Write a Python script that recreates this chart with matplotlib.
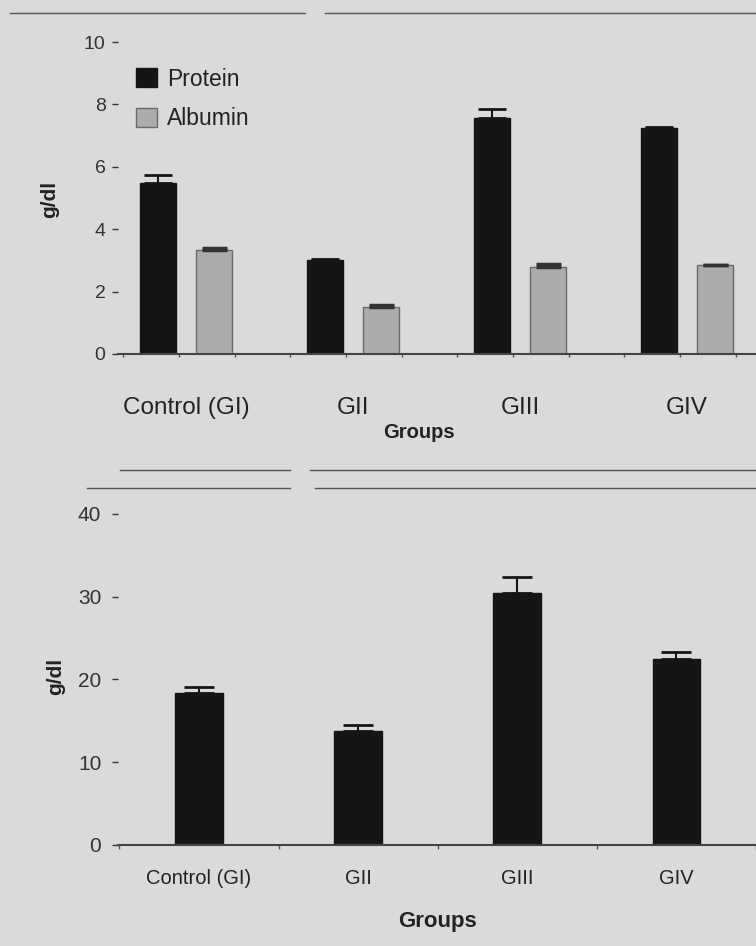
import numpy as np
import matplotlib.pyplot as plt
from matplotlib.lines import Line2D
from matplotlib.patches import Patch

plt.rcParams['font.family'] = ['Liberation Sans', 'DejaVu Sans']

groups = ['Control (GI)', 'GII', 'GIII', 'GIV']
protein = [5.47, 3.02, 7.56, 7.23]
protein_err = [0.28, 0.04, 0.29, 0.05]
albumin = [3.34, 1.51, 2.80, 2.86]
albumin_err = [0.07, 0.05, 0.08, 0.0]
globulin = [18.4, 13.8, 30.5, 22.5]
globulin_err = [0.7, 0.7, 1.9, 0.8]

bg = '#dadada'
dark = '#151515'
grey = '#acacac'

fig = plt.figure(figsize=(7.56, 9.46), dpi=100)
fig.patch.set_facecolor(bg)

x = np.arange(len(groups))

# ---- top chart: protein & albumin
ax1 = fig.add_axes([0.1561, 0.6258, 0.8439, 0.3298])
ax1.set_facecolor(bg)
ax1.bar(x - 0.168, protein, 0.22, color=dark, edgecolor=dark,
        yerr=[np.zeros(4), protein_err], capsize=10,
        error_kw=dict(ecolor=dark, elinewidth=1.5, capthick=2))
ax1.bar(x + 0.168, albumin, 0.22, color=grey, edgecolor='#6a6a6a', linewidth=1,
        yerr=[np.zeros(4), albumin_err], capsize=9,
        error_kw=dict(ecolor='#333333', elinewidth=1.5, capthick=2.5))
ax1.set_xlim(-0.407, 3.413)
ax1.set_ylim(0, 10)
ax1.set_yticks([0, 2, 4, 6, 8, 10])
ax1.set_xticks(x)
ax1.set_xticklabels(groups, fontsize=17.5, color='#222222')
ax1.set_xticks(np.arange(-0.375, 3.4, 1 / 3), minor=True)
ax1.tick_params(axis='x', which='major', length=0, pad=31)
ax1.tick_params(axis='x', which='minor', length=2, width=1, color='#555555')
ax1.tick_params(axis='y', length=4, width=1, pad=5, labelsize=14, colors='#333333')
ax1.set_xlabel('Groups', fontsize=14.5, fontweight='bold', color='#222222')
ax1.xaxis.set_label_coords(0.472, -0.22)
ax1.set_ylabel('g/dl', fontsize=15, fontweight='bold', color='#222222')
ax1.yaxis.set_label_coords(-0.092, 0.494)
handles = [Patch(facecolor=dark, edgecolor=dark), Patch(facecolor=grey, edgecolor='#6a6a6a')]
ax1.legend(handles, ['Protein', 'Albumin'], loc='upper left', bbox_to_anchor=(0.028, 0.918),
           frameon=False, fontsize=16.5, handlelength=0.9, handleheight=0.9,
           handletextpad=0.45, labelspacing=0.72, borderpad=0, borderaxespad=0,
           labelcolor='#222222')

# ---- bottom chart: globulin
ax2 = fig.add_axes([0.1561, 0.1068, 0.8439, 0.3499])
ax2.set_facecolor(bg)
ax2.bar(x, globulin, 0.30, color=dark, edgecolor=dark,
        yerr=[np.zeros(4), globulin_err], capsize=11,
        error_kw=dict(ecolor=dark, elinewidth=1.5, capthick=2))
ax2.set_xlim(-0.509, 3.453)
ax2.set_ylim(0, 40)
ax2.set_yticks([0, 10, 20, 30, 40])
ax2.set_xticks(x)
ax2.set_xticklabels(groups, fontsize=14.5, color='#222222')
ax2.set_xticks(np.arange(-0.5, 3.6, 1.0), minor=True)
ax2.tick_params(axis='x', which='major', length=0, pad=17)
ax2.tick_params(axis='x', which='minor', length=3, width=1, color='#555555')
ax2.tick_params(axis='y', length=4, width=1, pad=8, labelsize=15, colors='#333333')
ax2.set_xlabel('Groups', fontsize=16, fontweight='bold', color='#222222')
ax2.xaxis.set_label_coords(0.5, -0.20)
ax2.set_ylabel('g/dl', fontsize=15, fontweight='bold', color='#222222')
ax2.yaxis.set_label_coords(-0.083, 0.508)

for ax in (ax1, ax2):
    for s in ('top', 'right', 'left'):
        ax.spines[s].set_visible(False)
    ax.spines['bottom'].set_color('#444444')
    ax.spines['bottom'].set_linewidth(1.5)

# scanned page rules
W, H = 756, 946
for y, segs in [(13, [(10, 305), (325, 756)]),
                (470, [(120, 290), (310, 756)]),
                (488, [(87, 290), (315, 756)])]:
    for a, b in segs:
        fig.add_artist(Line2D([a / W, b / W], [1 - y / H, 1 - y / H],
                              color='#555555', linewidth=1))

fig.savefig('out.png', dpi=100, facecolor=bg)
